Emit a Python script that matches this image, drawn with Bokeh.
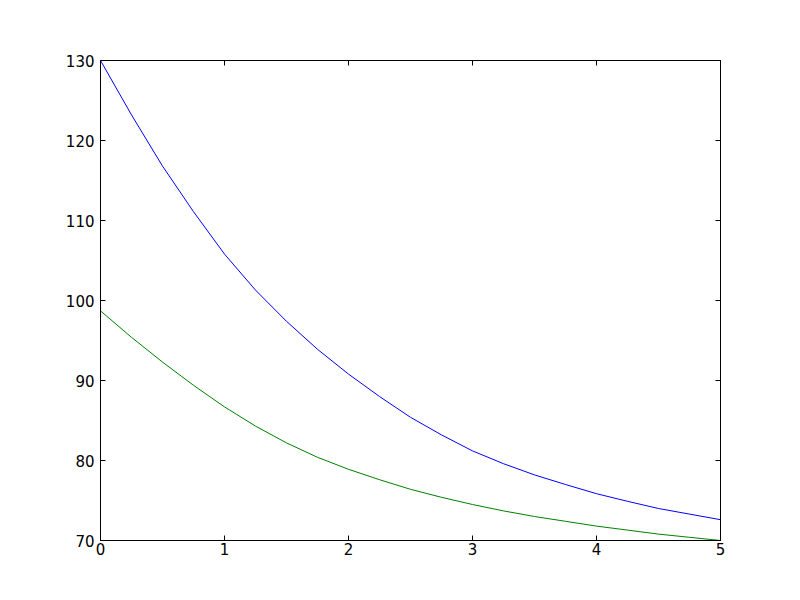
from bokeh.models import ColumnDataSource, LinearAxis, Range1d, FixedTicker
from bokeh.plotting import figure
from bokeh.embed import file_html
from bokeh.resources import INLINE

# values
t = [0.0, 0.25, 0.5, 0.75, 1.0, 1.25, 1.5, 1.75, 2.0, 2.25, 2.5,
     2.75, 3.0, 3.25, 3.5, 3.75, 4.0, 4.25, 4.5, 4.75, 5.0]
blue_vals = [130.0, 123.2, 116.8, 111.1, 105.8, 101.3, 97.4, 93.9, 90.8, 88.0, 85.4,
             83.2, 81.2, 79.6, 78.2, 77.0, 75.85, 74.9, 74.0, 73.3, 72.6]
green_vals = [98.7, 95.4, 92.3, 89.4, 86.7, 84.3, 82.2, 80.4, 78.9, 77.6, 76.4,
              75.4, 74.5, 73.7, 73.0, 72.4, 71.8, 71.3, 70.8, 70.4, 70.0]
x_ticks = [0, 1, 2, 3, 4, 5]
y_ticks = [70, 80, 90, 100, 110, 120, 130]

src = ColumnDataSource(data={'t': t, 'blue': blue_vals, 'green': green_vals})

p = figure(width=800, height=600, output_backend="svg", toolbar_location=None,
           x_range=Range1d(0, 5), y_range=Range1d(70, 130),
           min_border_left=100, min_border_right=80, min_border_top=60, min_border_bottom=60)
p.background_fill_color = "white"
p.border_fill_color = "white"
p.outline_line_color = "black"
p.outline_line_width = 1
p.grid.visible = False

p.line('t', 'blue', source=src, color="#0000ff", line_width=1)
p.line('t', 'green', source=src, color="#008000", line_width=1)

p.add_layout(LinearAxis(), "above")
p.add_layout(LinearAxis(), "right")

for ax in p.xaxis:
    ax.ticker = FixedTicker(ticks=x_ticks)
for ax in p.yaxis:
    ax.ticker = FixedTicker(ticks=y_ticks)

for ax in p.xaxis + p.yaxis:
    ax.axis_line_color = "black"
    ax.major_tick_line_color = "black"
    ax.major_tick_in = 5
    ax.major_tick_out = 0
    ax.minor_tick_line_color = None
    ax.major_label_text_font = "DejaVu Sans"
    ax.major_label_text_font_size = "15px"
    ax.major_label_text_color = "black"
    ax.major_label_standoff = 6

p.above[0].major_label_text_color = None
p.right[0].major_label_text_color = None
p.below[0].major_label_standoff = 2

open("out.html", "w").write(file_html(p, INLINE))
